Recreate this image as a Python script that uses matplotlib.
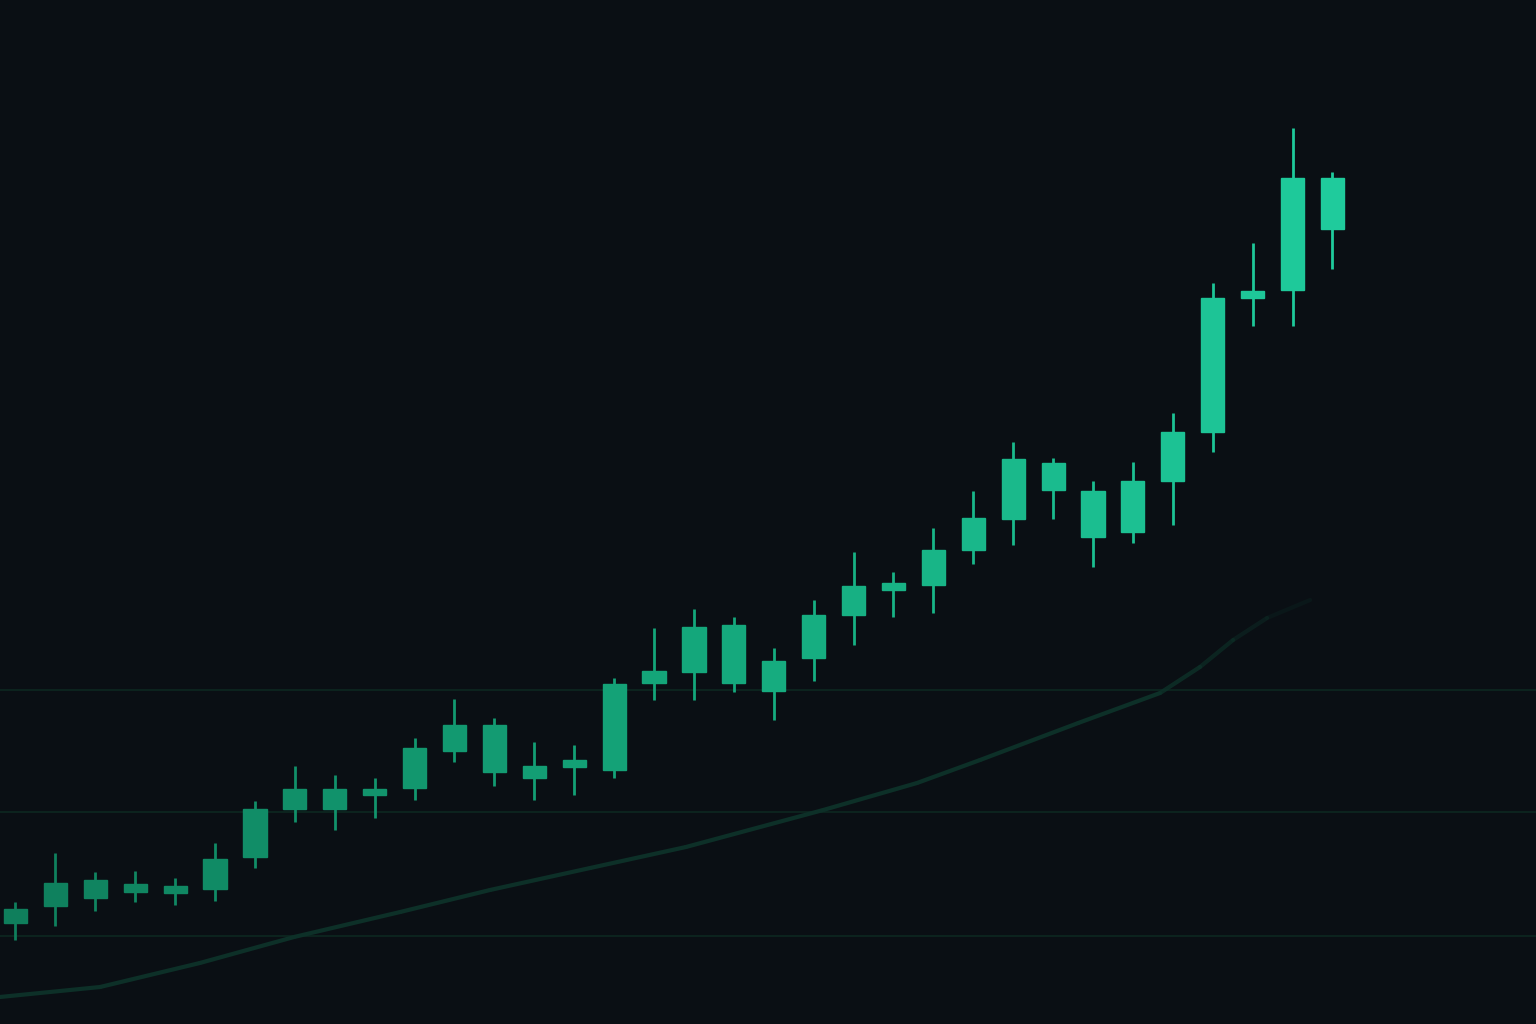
import numpy as np
import matplotlib
matplotlib.use("Agg")
import matplotlib.pyplot as plt
from matplotlib.colors import LinearSegmentedColormap, to_rgba
from matplotlib.collections import LineCollection

# candle data (price units), one entry per session
opens = [25.25, 29.5, 31.5, 33.0, 32.75, 33.75, 41.75, 53.75, 53.75, 57.25,
         59.0, 68.25, 63.0, 61.5, 64.25, 63.5, 85.25, 88.0, 85.25, 83.25,
         91.5, 102.25, 108.5, 109.75, 118.5, 126.25, 133.5, 121.75, 123.0, 135.75,
         148.0, 181.5, 183.5, 198.75]
closes = [28.75, 35.25, 36.0, 35.0, 34.5, 41.25, 53.75, 58.75, 58.75, 58.75,
          69.0, 74.75, 74.75, 64.5, 66.0, 85.0, 88.25, 99.25, 99.75, 90.75,
          102.25, 109.5, 110.25, 118.5, 126.5, 141.25, 140.25, 133.25, 135.75, 148.0,
          181.5, 183.25, 211.5, 211.5]
highs = [30.5, 42.75, 38.0, 38.25, 36.5, 45.25, 55.75, 64.5, 62.25, 61.5,
         71.5, 81.25, 76.5, 70.5, 69.75, 86.5, 99.0, 103.75, 101.75, 94.0,
         106.0, 118.0, 113.0, 124.0, 133.25, 145.5, 141.5, 135.75, 140.5, 152.75,
         185.25, 195.25, 224.0, 213.0]
lows = [21.0, 24.5, 28.25, 30.5, 29.75, 30.75, 39.0, 50.5, 48.5, 51.5,
        56.0, 65.5, 59.5, 56.0, 57.25, 61.5, 81.0, 81.0, 83.0, 76.0,
        85.75, 94.75, 101.75, 102.75, 115.0, 119.75, 126.25, 114.25, 120.25, 124.75,
        143.0, 174.5, 174.5, 188.75]

# slow trend line underneath
trend_x = [-0.39, 2.12, 4.62, 6.98, 9.64, 11.89, 14.4, 16.8, 20.24, 22.59,
           24.17, 26.63, 28.68, 29.68, 30.51, 31.36, 32.44]
trend_y = [6.75, 9.25, 15.25, 21.75, 28.0, 33.5, 39.0, 44.25, 53.5, 60.25,
           66.0, 75.25, 82.75, 89.25, 96.0, 101.5, 106.0]

# faint horizontal levels
levels = [83.5, 53.0, 22.0]

bg = "#0a0f14"
fig = plt.figure(figsize=(15.36, 10.24), dpi=100, facecolor=bg)
ax = fig.add_axes([0, 0, 1, 1])
ax.set_facecolor(bg)

for lv in levels:
    ax.axhline(lv, color="#0c231e", lw=1.5, zorder=1)

# trend curve, fading out on the right
pts = np.column_stack([trend_x, trend_y])
segs = np.stack([pts[:-1], pts[1:]], axis=1)
n_seg = len(segs)
alphas = np.ones(n_seg)
alphas[-4:] = [0.85, 0.65, 0.45, 0.25]
cols = [to_rgba("#0d3028", a) for a in alphas]
ax.add_collection(LineCollection(segs, colors=cols, linewidths=3.0, zorder=2,
                                 capstyle="round", joinstyle="round"))

n = len(opens)
idx = np.arange(n)
cmap = LinearSegmentedColormap.from_list("g", ["#0f7f5c", "#14a67a", "#1fcb9c"])
colors = [cmap(i / (n - 1)) for i in idx]

lo_body = np.minimum(opens, closes)
hi_body = np.maximum(opens, closes)

ax.vlines(idx, lows, highs, colors=colors, linewidth=2.0, zorder=3)
ax.bar(idx, hi_body - lo_body, bottom=lo_body, width=0.58, color=colors,
       edgecolor=colors, linewidth=1.0, zorder=4)

ax.set_xlim(-0.388, 38.1)
ax.set_ylim(0, 256)
ax.axis("off")

fig.savefig("out.png", dpi=100, facecolor=bg)
